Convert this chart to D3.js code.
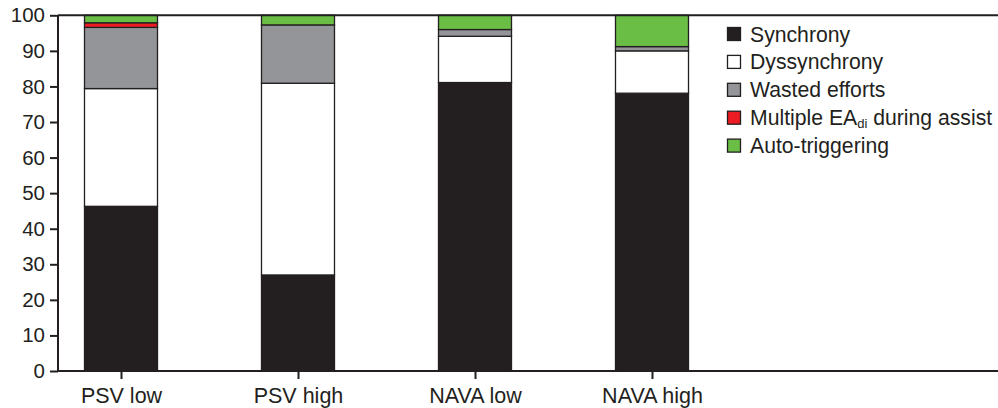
<!DOCTYPE html>
<html><head><meta charset="utf-8">
<script src="https://cdn.jsdelivr.net/npm/d3@7"></script>
<style>body{margin:0;background:#fff}svg{display:block}text{font-family:"Liberation Sans",Arial,sans-serif;fill:#231f20}</style>
</head><body><svg id="c" width="998" height="408"></svg>
<script>
const categories = ["PSV low","PSV high","NAVA low","NAVA high"];
const seriesNames = ["Synchrony","Dyssynchrony","Wasted efforts","Multiple EAdi during assist","Auto-triggering"];
const synchrony = [46.3, 27.0, 81.1, 78.1];
const dyssynchrony = [33.1, 53.9, 13.0, 11.9];
const wastedEfforts = [17.2, 16.4, 1.9, 1.2];
const multipleEAdi = [1.3, 0, 0, 0];
const autoTriggering = [2.1, 2.7, 4.0, 8.8];
const yTicks = [0,10,20,30,40,50,60,70,80,90,100];
const colors = ["#231f20","#ffffff","#939598","#ed1c24","#6abd45"];

(function(){
const rows = categories.map((c,i)=>({cat:c, s0:synchrony[i], s1:dyssynchrony[i], s2:wastedEfforts[i], s3:multipleEAdi[i], s4:autoTriggering[i]}));
const keys = ["s0","s1","s2","s3","s4"];
const stack = d3.stack().keys(keys)(rows);

const svg = d3.select("#c");
const mLeft = 58, mRight = 998, mTop = 15.3, mBottom = 371;
const x = d3.scalePoint().domain(categories).range([121, 652]);
const y = d3.scaleLinear().domain([0,100]).range([mBottom, mTop]);
const bw = 73;

stack.forEach((layer, li) => {
  svg.append("g").selectAll("rect").data(layer.filter(d => d[1]-d[0] > 0)).join("rect")
    .attr("x", d => x(d.data.cat) - bw/2)
    .attr("width", bw)
    .attr("y", d => y(d[1]))
    .attr("height", d => y(d[0]) - y(d[1]))
    .attr("fill", colors[li])
    .attr("stroke", "#231f20")
    .attr("stroke-width", 1.3);
});

const ya = svg.append("g").attr("transform", `translate(${mLeft},0)`)
  .call(d3.axisLeft(y).tickValues(yTicks).tickSize(8).tickPadding(5));
ya.select(".domain").attr("stroke","#231f20").attr("stroke-width",2).attr("d", `M0,${mTop}V${mBottom}`);
ya.selectAll(".tick line").attr("stroke","#231f20").attr("stroke-width",2);
ya.selectAll(".tick text").attr("font-size",20.5).attr("fill","#231f20").style("font-family","'Liberation Sans',Arial,sans-serif");

const xa = svg.append("g").attr("transform", `translate(0,${mBottom})`)
  .call(d3.axisBottom(x).tickSize(8).tickPadding(5));
xa.select(".domain").attr("stroke","#231f20").attr("stroke-width",2).attr("d", `M${mLeft},0H${mRight}`);
xa.selectAll(".tick line").attr("stroke","#231f20").attr("stroke-width",2);
xa.selectAll(".tick text").attr("font-size",21.5).attr("fill","#231f20").attr("dy","0.9em").style("font-family","'Liberation Sans',Arial,sans-serif");

svg.append("line").attr("x1",mLeft).attr("x2",mRight).attr("y1",y(100)).attr("y2",y(100))
  .attr("stroke","#231f20").attr("stroke-width",2);

const lg = svg.append("g");
seriesNames.forEach((n,i) => {
  const cy = 34 + i*27.9;
  lg.append("rect").attr("x",727.5).attr("y",cy-6.5).attr("width",13).attr("height",13)
    .attr("fill",colors[i]).attr("stroke","#231f20").attr("stroke-width",1.3);
  const t = lg.append("text").attr("x",750).attr("y",cy+7.5).attr("font-size",21.2);
  if (n.includes("EAdi")) {
    t.append("tspan").text("Multiple EA");
    t.append("tspan").attr("font-size",13).attr("dy",3).text("di");
    t.append("tspan").attr("dy",-3).text(" during assist");
  } else t.text(n);
});
})();
</script></body></html>
